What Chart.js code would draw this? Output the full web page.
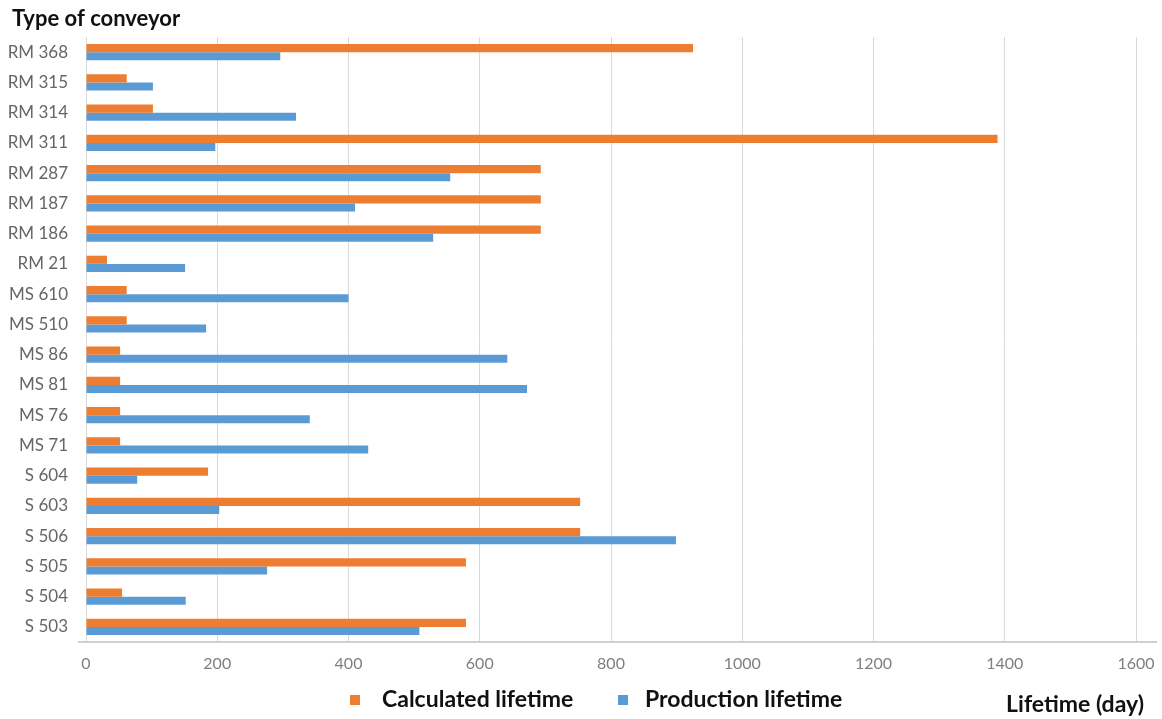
<!DOCTYPE html>
<html>
<head>
<meta charset="utf-8">
<script src="https://cdn.jsdelivr.net/npm/chart.js@4"></script>
<style>
    html, body { margin: 0; padding: 0; background: #fff; }
    #wrap { width: 1162px; height: 719px; position: relative; }
</style>
</head>
<body>
<div id="wrap"><canvas id="lifetimeChart"></canvas></div>
<script>
const conveyors = ['RM 368', 'RM 315', 'RM 314', 'RM 311', 'RM 287', 'RM 187', 'RM 186', 'RM 21',
    'MS 610', 'MS 510', 'MS 86', 'MS 81', 'MS 76', 'MS 71',
    'S 604', 'S 603', 'S 506', 'S 505', 'S 504', 'S 503'];

const calculatedLifetime = [925, 62, 102, 1389, 693, 693, 693, 32, 62, 62, 52, 52, 52, 52, 186, 753, 753, 579, 55, 579];
const productionLifetime = [296, 102, 320, 197, 555, 410, 529, 151, 400, 183, 642, 672, 341, 430, 78, 203, 899, 276, 152, 508];

const xTicks = [0, 200, 400, 600, 800, 1000, 1200, 1400, 1600];

const orange = '#ed7d31';
const blue = '#5b9bd5';

// heading, legend, axis caption and the long bottom axis line
const captions = {
    id: 'captions',
    afterDraw(chart) {
        const ctx = chart.ctx;
        const x = chart.scales.x;
        ctx.save();

        ctx.strokeStyle = '#bfbfbf';
        ctx.lineWidth = 1.5;
        ctx.beginPath();
        ctx.moveTo(78, x.top);
        ctx.lineTo(1157, x.top);
        ctx.stroke();

        ctx.textBaseline = 'middle';
        ctx.textAlign = 'left';
        ctx.fillStyle = '#111';
        ctx.font = 'bold 22px Lato';
        ctx.fillText('Type of conveyor', 12, 19);

        const spots = [{ box: 350, text: 382 }, { box: 618, text: 645 }];
        ctx.font = 'bold 23px Lato';
        chart.data.datasets.forEach((ds, i) => {
            ctx.fillStyle = ds.backgroundColor;
            ctx.fillRect(spots[i].box, 695, 10, 10);
            ctx.fillStyle = '#111';
            ctx.fillText(ds.label, spots[i].text, 700);
        });

        ctx.textAlign = 'right';
        ctx.fillText('Lifetime (day)', 1144, 705);
        ctx.restore();
    }
};

const ctx = document.getElementById('lifetimeChart').getContext('2d');
const lifetimeChart = new Chart(ctx, {
    type: 'bar',
    data: {
        labels: conveyors,
        datasets: [{
            label: 'Calculated lifetime',
            data: calculatedLifetime,
            backgroundColor: orange
        }, {
            label: 'Production lifetime',
            data: productionLifetime,
            backgroundColor: blue
        }]
    },
    options: {
        indexAxis: 'y',
        responsive: true,
        maintainAspectRatio: false,
        animation: false,
        categoryPercentage: 0.54,
        barPercentage: 1.0,
        layout: {
            padding: { left: 0, right: 26, top: 37, bottom: 37 }
        },
        plugins: {
            legend: { display: false },
            tooltip: { enabled: false }
        },
        scales: {
            x: {
                min: 0,
                max: 1600,
                afterBuildTicks: scale => {
                    scale.ticks = xTicks.map(v => ({ value: v }));
                },
                afterFit: scale => {
                    scale.height = 40;
                    scale.paddingLeft = 0;
                    scale.paddingRight = 0;
                },
                grid: { color: '#d9d9d9', drawTicks: false },
                border: { display: false },
                ticks: {
                    padding: 12,
                    color: '#7f7f7f',
                    font: { family: 'Lato', size: 16 },
                    callback: value => String(value)
                }
            },
            y: {
                afterFit: scale => { scale.width = 86; },
                grid: { display: false },
                border: { display: false },
                ticks: {
                    padding: 10,
                    color: '#666',
                    font: { family: 'Lato', size: 17 }
                }
            }
        }
    },
    plugins: [captions]
});
</script>
</body>
</html>
